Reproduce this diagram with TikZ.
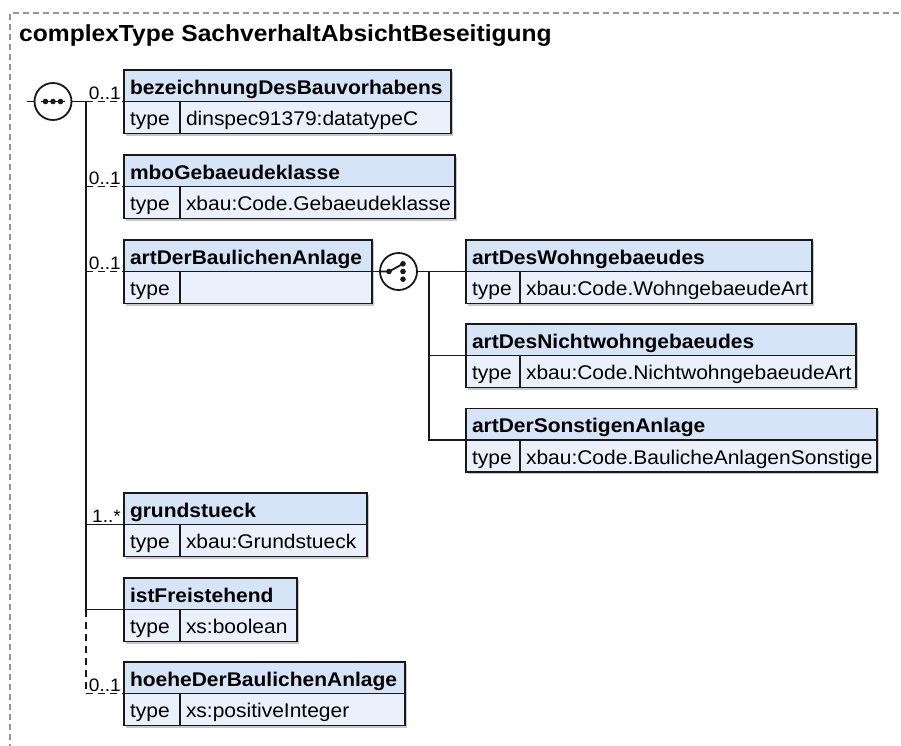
\documentclass[tikz,border=0pt]{standalone}
\usepackage{fontspec}
\setmainfont{Liberation Sans}
\newfontfamily\dgfam{Liberation Sans}[FakeStretch=1.06]
\newcommand\dgtitle{\dgfam\bfseries\fontsize{23.2}{27}\selectfont}
\newcommand\dghdr{\dgfam\bfseries\fontsize{19.8}{23}\selectfont}
\newcommand\dgrow{\dgfam\fontsize{19.8}{23}\selectfont}
\newcommand\dgcard{\dgfam\fontsize{18}{21}\selectfont}
\definecolor{hdrc}{RGB}{214,228,248}
\definecolor{rowc}{RGB}{234,241,252}
\definecolor{bordc}{RGB}{25,25,25}
\definecolor{shadc}{RGB}{200,200,200}
\definecolor{framec}{RGB}{150,150,150}
\tikzset{
  hdr/.style={draw=bordc, fill=hdrc, line width=1.8pt, minimum height=31.5pt,
    inner xsep=6pt, inner ysep=0pt, outer sep=0pt, anchor=north west, font=\dghdr,
    align=left, text height=16.5pt, text depth=0pt},
  cell/.style={draw=bordc, fill=rowc, line width=1.8pt, minimum height=32pt,
    inner xsep=6pt, inner ysep=0pt, outer sep=0pt, anchor=north west, font=\dgrow,
    align=left, text height=16.5pt, text depth=0pt},
  conn/.style={draw=bordc, line width=1.8pt},
  optconn/.style={conn, dash pattern=on 7pt off 5pt},
  card/.style={anchor=base east, font=\dgcard, inner sep=0pt},
  symb/.style={circle, draw=bordc, fill=white, line width=1.8pt, minimum size=37pt, inner sep=0pt, outer sep=0pt},
  dot/.style={fill=bordc}
}
\newcommand\dgelem[7]{%
  \pgfmathsetmacro\dgW{#4-#2-12}%
  \pgfmathsetmacro\dgTW{#5-#2-12}%
  \pgfmathsetmacro\dgVW{#4-#5-12}%
  \fill[shadc] (#2+2,#3+2) rectangle (#4+2.2,#3+65.7);
  \node[hdr, text width=\dgW pt] (#1) at (#2,#3) {#6};
  \node[cell, text width=\dgTW pt] (#1-t) at (#1.south west) {type};
  \node[cell, text width=\dgVW pt] (#1-v) at (#1-t.north east) {#7};
}
\begin{document}
\begin{tikzpicture}[x=1pt, y=-1pt]
\useasboundingbox (0,0) rectangle (901,745);
\begin{scope}
  \clip (0,0) rectangle (901,745);
  \draw[framec, line width=1.3pt, dash pattern=on 6pt off 4pt] (10,800) -- (10,13) -- (1000,13);
\end{scope}

\node[anchor=base west, font=\dgtitle, inner sep=0pt] (title) at (19,41) {complexType SachverhaltAbsichtBeseitigung};

% elements
\dgelem{bez}{124}{70}{451}{180}{bezeichnungDesBauvorhabens}{dinspec91379:datatypeC}
\dgelem{mbo}{124}{155}{455}{180}{mboGebaeudeklasse}{xbau:Code.Gebaeudeklasse}
\dgelem{art}{124}{240}{372}{180}{artDerBaulichenAnlage}{}
\dgelem{wohn}{466}{240}{812}{520}{artDesWohngebaeudes}{xbau:Code.WohngebaeudeArt}
\dgelem{nicht}{466}{324}{856}{520}{artDesNichtwohngebaeudes}{xbau:Code.NichtwohngebaeudeArt}
\dgelem{sonst}{466}{408.5}{877}{520}{artDerSonstigenAnlage}{xbau:Code.BaulicheAnlagenSonstige}
\dgelem{grund}{124}{493}{367}{180}{grundstueck}{xbau:Grundstueck}
\dgelem{ist}{124}{578}{297}{180}{istFreistehend}{xs:boolean}
\dgelem{hoe}{124}{662}{405}{180}{hoeheDerBaulichenAnlage}{xs:positiveInteger}

% sequence symbol
\coordinate (stub) at (27,101.5);
\coordinate (trTop) at (86,101.5);
\node[symb] (seq) at (53,101.5) {};
\draw[conn] (stub) -- (seq.west);
\draw[conn] (seq.east) -- (trTop);
\draw[conn] ([xshift=-12pt]seq.center) -- ([xshift=12pt]seq.center);
\fill[dot] ([xshift=-7.5pt]seq.center) circle (2.8pt);
\fill[dot] (seq.center) circle (2.8pt);
\fill[dot] ([xshift=7.5pt]seq.center) circle (2.8pt);

% trunk
\draw[conn] (trTop) -- (trTop |- ist.south west);
\draw[optconn] (trTop |- ist.south west) -- (trTop |- hoe.south west);

% branches to elements
\draw[optconn] (trTop |- bez.south west) -- (bez.south west);
\draw[optconn] (trTop |- mbo.south west) -- (mbo.south west);
\draw[optconn] (trTop |- art.south west) -- (art.south west);
\draw[conn] (trTop |- grund.south west) -- (grund.south west);
\draw[conn] (trTop |- ist.south west) -- (ist.south west);
\draw[optconn] (trTop |- hoe.south west) -- (hoe.south west);

% cardinalities
\node[card] (c1) at (121,99.5) {0..1};
\node[card] (c2) at (121,184.5) {0..1};
\node[card] (c3) at (121,269.5) {0..1};
\node[card] (c4) at (121,522.5) {1..*};
\node[card] (c6) at (121,691.5) {0..1};

% choice symbol
\node[symb] (cho) at (398.5,271.5) {};
\coordinate (br) at (429,271.5);
\draw[conn] (art.south east) -- (cho.west);
\draw[conn] (cho.east) -- (wohn.south west);
\draw[conn] (br) -- (br |- sonst.south west) -- (sonst.south west);
\draw[conn] (br |- nicht.south west) -- (nicht.south west);
\coordinate (chL) at ([xshift=-9.5pt]cho.center);
\coordinate (chT) at ([xshift=4.5pt, yshift=7.7pt]cho.center);
\draw[conn] (cho.west) -- (chL) -- (chT);
\fill[dot] (chL) circle (2.8pt);
\fill[dot] (chT) circle (2.8pt);
\fill[dot] ([xshift=4.5pt]cho.center) circle (2.8pt);
\fill[dot] ([xshift=4.5pt, yshift=-7.7pt]cho.center) circle (2.8pt);
\end{tikzpicture}
\end{document}
